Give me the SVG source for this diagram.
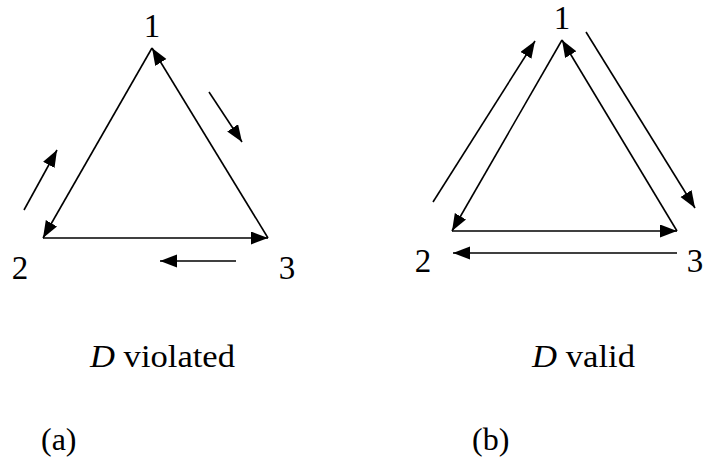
<svg xmlns="http://www.w3.org/2000/svg" width="703" height="462" viewBox="0 0 703 462">
<style>
.e{stroke:#000;stroke-width:1.6;fill:none;marker-end:url(#ah)}
.t{font-family:"Liberation Serif","Times New Roman",serif;font-size:33px;fill:#000;text-anchor:middle}
.l{font-family:"Liberation Serif","Times New Roman",serif;font-size:32px;fill:#000}
</style>
<defs>
<marker id="ah" markerUnits="userSpaceOnUse" markerWidth="19" markerHeight="14" refX="17" refY="6.5" orient="auto">
<path d="M0,0 L17,6.5 L0,13 z" fill="#000"/>
</marker>
</defs>
<g id="connectors">
<line class="e" x1="152" y1="48" x2="43" y2="238"/>
<line class="e" x1="268" y1="238" x2="152" y2="48"/>
<line class="e" x1="43" y1="238" x2="268" y2="238"/>
<line class="e" x1="24" y1="210" x2="57" y2="150"/>
<line class="e" x1="209" y1="92" x2="242" y2="142"/>
<line class="e" x1="236" y1="261" x2="160" y2="261"/>
<line class="e" x1="562" y1="40" x2="452" y2="231"/>
<line class="e" x1="677" y1="231" x2="562" y2="40"/>
<line class="e" x1="452" y1="231" x2="677" y2="231"/>
<line class="e" x1="433" y1="202" x2="535" y2="41"/>
<line class="e" x1="586" y1="32" x2="695" y2="208"/>
<line class="e" x1="677" y1="253" x2="453" y2="253"/>
</g>
<g id="a1"><text class="t" x="152" y="37">1</text></g>
<g id="a2"><text class="t" x="20" y="279">2</text></g>
<g id="a3"><text class="t" x="287" y="279">3</text></g>
<g id="b1"><text class="t" x="562" y="29">1</text></g>
<g id="b2"><text class="t" x="423" y="272">2</text></g>
<g id="b3"><text class="t" x="695" y="272">3</text></g>
<g id="captions">
<text class="l" x="90" y="367" textLength="145" lengthAdjust="spacingAndGlyphs"><tspan font-style="italic">D</tspan> violated</text>
<text class="l" x="532" y="367" textLength="103" lengthAdjust="spacingAndGlyphs"><tspan font-style="italic">D</tspan> valid</text>
<text class="l" x="41" y="450">(a)</text>
<text class="l" x="472" y="450">(b)</text>
</g>
</svg>
